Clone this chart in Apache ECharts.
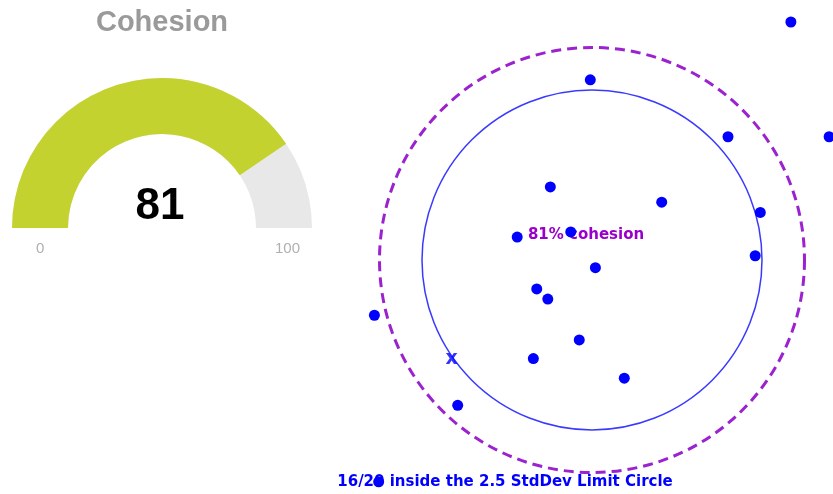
<!DOCTYPE html>
<html>
<head>
<meta charset="utf-8">
<script src="https://cdn.jsdelivr.net/npm/echarts@6/dist/echarts.min.js"></script>
<style>
html,body{margin:0;padding:0;background:#fff;}
#chart{width:833px;height:494px;}
</style>
</head>
<body>
<div id="chart"></div>
<script>
// ---- data ----
const gaugeTitle = 'Cohesion';
const cohesionValue = [81];
const gaugeTicks = [0, 100];
// scatter points, in standard-deviation units from the group centre
const dotX = [2.34, -0.02, 1.60, 2.79, -0.49, 0.82, 1.98, -0.88, -0.25, 1.92, 0.04, -0.65, -0.52, -2.56, -0.15, -0.69, 0.38, -1.58, -2.51];
const dotY = [2.80, 2.12, 1.45, 1.45, 0.86, 0.68, 0.56, 0.27, 0.33, 0.05, -0.09, -0.34, -0.46, -0.65, -0.94, -1.16, -1.39, -1.71, -2.61];
const markX = [-1.65];
const markY = [-1.16];
const circleRadii = [2.0, 2.5];   // 2 StdDev circle, 2.5 StdDev limit circle
const insideCount = [16];
const totalCount = [20];

const chart = echarts.init(document.getElementById('chart'), null, {renderer: 'canvas'});

const dots = dotX.map((x, i) => [x, dotY[i]]);
const marks = markX.map((x, i) => [x, markY[i]]);
const circles = circleRadii.map((r, i) => [0, 0, r, i]);

const tickFont = {color: '#b0b0b0', fontSize: 15, fontFamily: 'Liberation Sans', lineHeight: 42};

const option = {
  backgroundColor: '#ffffff',
  animation: false,
  title: [
    {
      text: cohesionValue[0] + '% cohesion',
      left: 586, top: 228, textAlign: 'center', padding: 0, z: 1,
      textStyle: {fontFamily: 'DejaVu Sans', fontWeight: 'bold', fontSize: 15, color: '#9a00cc'}
    },
    {
      text: insideCount[0] + '/' + totalCount[0] + ' inside the 2.5 StdDev Limit Circle',
      left: 505, top: 475, textAlign: 'center', padding: 0, z: 1,
      textStyle: {fontFamily: 'DejaVu Sans', fontWeight: 'bold', fontSize: 15, color: '#0000ff'}
    }
  ],
  grid: {left: 337, top: 5, width: 510, height: 510, show: false, outerBoundsMode: 'none', containLabel: false},
  xAxis: {type: 'value', min: -3, max: 3, show: false},
  yAxis: {type: 'value', min: -3, max: 3, show: false},
  series: [
    {
      type: 'gauge',
      center: [162, 228],
      radius: 150,
      startAngle: 180,
      endAngle: 0,
      min: gaugeTicks[0],
      max: gaugeTicks[1],
      splitNumber: 1,
      pointer: {show: false},
      anchor: {show: false},
      progress: {show: true, width: 56, roundCap: false, itemStyle: {color: '#c4d22f'}},
      axisLine: {lineStyle: {width: 56, color: [[1, '#e8e8e8']]}},
      axisTick: {show: false},
      splitLine: {show: false, length: 10, distance: 10},
      axisLabel: {
        show: true, distance: -8,
        color: '#b0b0b0', fontSize: 15, fontFamily: 'Liberation Sans', lineHeight: 42,
        rich: {
          lo: Object.assign({padding: [0, 0, 0, 12]}, tickFont),
          hi: Object.assign({}, tickFont)
        },
        formatter: function (v) {
          if (v === gaugeTicks[0]) return '\n{lo|' + v + '}';
          if (v === gaugeTicks[1]) return '\n{hi|' + v + '}';
          return '';
        }
      },
      title: {offsetCenter: [0, -205], fontSize: 29, fontWeight: 'bold', color: '#9a9a9a', fontFamily: 'Liberation Sans'},
      detail: {offsetCenter: [-2, -21], fontSize: 44, fontWeight: 'bold', color: '#000', fontFamily: 'Liberation Sans', formatter: '{value}'},
      data: [{value: cohesionValue[0], name: gaugeTitle}]
    },
    {
      type: 'custom',
      coordinateSystem: 'cartesian2d',
      z: 2,
      clip: false,
      data: circles,
      renderItem: function (params, api) {
        const c = api.coord([api.value(0), api.value(1)]);
        const r = api.size([api.value(2), 0])[0];
        const limit = api.value(3) === 1;
        return {
          type: 'circle',
          shape: {cx: c[0], cy: c[1], r: r},
          style: limit
            ? {fill: 'none', stroke: '#9b22cf', lineWidth: 3, lineDash: [10, 6]}
            : {fill: 'none', stroke: '#3a3aff', lineWidth: 1.5}
        };
      }
    },
    {
      type: 'scatter',
      z: 3,
      symbol: 'circle',
      symbolSize: 11,
      itemStyle: {color: '#0000ff', opacity: 1},
      data: dots
    },
    {
      type: 'scatter',
      z: 3,
      symbolSize: 1,
      itemStyle: {color: 'rgba(0,0,0,0)'},
      label: {
        show: true, position: 'inside', formatter: 'x',
        fontFamily: 'DejaVu Sans', fontWeight: 'bold', fontSize: 19, color: '#0000ff'
      },
      data: marks
    }
  ]
};
chart.setOption(option);
</script>
</body>
</html>
